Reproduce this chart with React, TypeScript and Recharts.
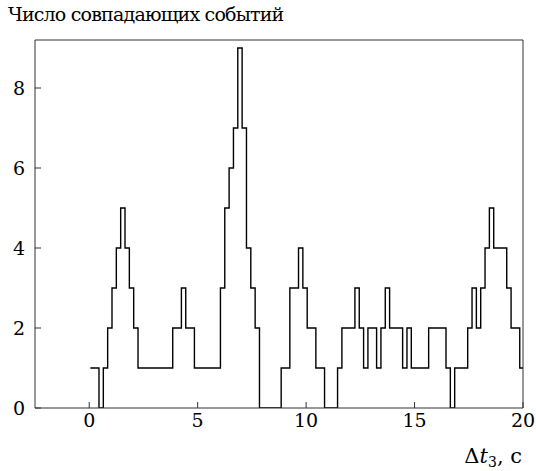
import React from 'react';
import { Line, LineChart, XAxis, YAxis } from 'recharts';

// histogram bins: 0.2 s wide, first bin starts at 0.05
const binStart = 0.05;
const binWidth = 0.2;
const counts = [
  1, 1, 0, 1, 2, 3, 4, 5, 4, 3, 2,
  1, 1, 1, 1, 1, 1, 1, 1,
  2, 2, 3, 2, 2,
  1, 1, 1, 1, 1, 1,
  3, 5, 6, 7, 9, 7, 4, 3, 2,
  0, 0, 0, 0, 0,
  1, 1, 3, 3, 4, 3, 2, 2, 1, 1,
  0, 0, 0,
  1, 2, 2, 2, 3, 2, 1, 2, 2, 1, 2, 3, 2, 2, 2, 1, 2,
  1, 1, 1, 1,
  2, 2, 2, 2,
  1, 0,
  1, 1, 1,
  2, 3, 2, 3, 4, 5, 4, 4, 4, 3, 2, 2,
  1,
];
const xTicks = [0, 5, 10, 15, 20];
const yTicks = [0, 2, 4, 6, 8];
const title = 'Число совпадающих событий';

const data = counts.map((n, i) => ({ t: +(binStart + i * binWidth).toFixed(2), n }));
data.push({ t: +(binStart + counts.length * binWidth).toFixed(2), n: counts[counts.length - 1] });

const font = "'DejaVu Serif', serif";
const axisColor = '#333';
const tickStyle = { fill: '#000', fontSize: 19, fontFamily: font };

export default function App() {
  return (
    <div style={{ position: 'relative', width: 536, height: 471, background: '#fff' }}>
      <style>{'body{margin:0}'}</style>
      <LineChart width={536} height={471} data={data} margin={{ top: 39, right: 12, bottom: 33, left: 5 }}>
        <XAxis
          dataKey="t"
          type="number"
          domain={[-2.5, 20]}
          allowDataOverflow
          ticks={xTicks}
          interval={0}
          height={30}
          stroke={axisColor}
          tickSize={-6}
          tickMargin={12}
          tick={tickStyle}
        />
        <XAxis
          xAxisId="top"
          orientation="top"
          dataKey="t"
          type="number"
          domain={[-2.5, 20]}
          allowDataOverflow
          ticks={xTicks}
          interval={0}
          height={1}
          stroke={axisColor}
          tickSize={-6}
          tick={false}
        />
        <YAxis
          type="number"
          domain={[0, 9.2]}
          allowDataOverflow
          ticks={yTicks}
          interval={0}
          width={30}
          stroke={axisColor}
          tickSize={-6}
          tickMargin={16}
          tick={tickStyle}
        />
        <YAxis
          yAxisId="right"
          orientation="right"
          type="number"
          domain={[0, 9.2]}
          allowDataOverflow
          ticks={yTicks}
          interval={0}
          width={1}
          stroke={axisColor}
          tickSize={-6}
          tick={false}
        />
        <Line
          type="stepAfter"
          dataKey="n"
          stroke="#000"
          strokeWidth={1.4}
          dot={false}
          activeDot={false}
          isAnimationActive={false}
        />
      </LineChart>
      <svg width={536} height={471} style={{ position: 'absolute', left: 0, top: 0, pointerEvents: 'none' }}>
        <text x={8} y={21} fontSize={19} letterSpacing={-0.8} style={{ fontFamily: font }} fill="#000">
          {title}
        </text>
        <text x={522} y={463} fontSize={21} style={{ fontFamily: font }} fill="#000" textAnchor="end">
          Δ<tspan fontStyle="italic">t</tspan>
          <tspan fontSize={14} dy={4}>3</tspan>
          <tspan dy={-4}>, с</tspan>
        </text>
      </svg>
    </div>
  );
}
